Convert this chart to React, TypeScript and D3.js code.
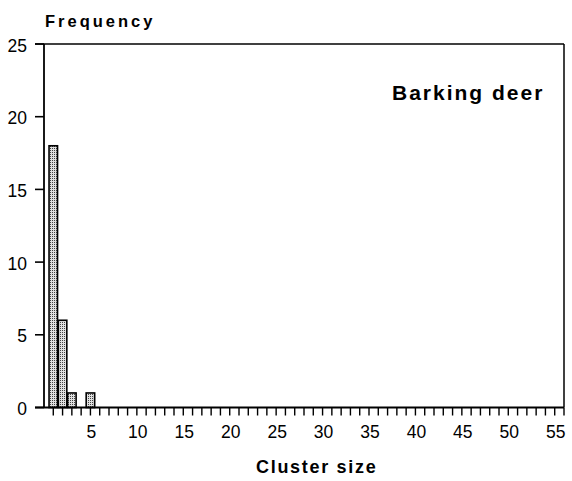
import React from "react";
import * as d3 from "d3";

const clusterSizes = [1, 2, 3, 4, 5];
const frequencies = [18, 6, 1, 0, 1];
const yTicks = [0, 5, 10, 15, 20, 25];
const xLabelTicks = [5, 10, 15, 20, 25, 30, 35, 40, 45, 50, 55];
const title = "Barking deer";
const yTitle = "Frequency";
const xTitle = "Cluster size";

export default function App() {
  const W = 572, H = 481;
  const x = d3.scaleLinear().domain([0, 56]).range([44, 564]);
  const y = d3.scaleLinear().domain([0, 25]).range([407.5, 44]);
  const minor = d3.range(1, 57);
  const barW = 8.5;
  const font = "'Liberation Sans', Arial, Helvetica, sans-serif";
  return (
    <svg width={W} height={H} style={{ position: "absolute", left: 0, top: 0 }}>
      <defs>
        <pattern id="stip" width="2" height="2" patternUnits="userSpaceOnUse">
          <rect width="2" height="2" fill="#e0e0e0" />
          <rect width="1" height="1" fill="#444" />
        </pattern>
      </defs>
      <rect width={W} height={H} fill="#fff" />
      {clusterSizes.map((c, i) =>
        frequencies[i] > 0 ? (
          <rect
            key={c}
            x={x(c) - barW / 2}
            y={y(frequencies[i])}
            width={barW}
            height={y(0) - y(frequencies[i])}
            fill="url(#stip)"
            stroke="#000"
            strokeWidth={1.6}
          />
        ) : null
      )}
      {/* frame */}
      <line x1={x(0)} x2={x(0)} y1={y(25)} y2={y(0)} stroke="#000" strokeWidth={1.8} />
      <line x1={35} x2={x(56)} y1={y(25)} y2={y(25)} stroke="#000" strokeWidth={1.5} />
      <line x1={x(56)} x2={x(56)} y1={y(25)} y2={y(0)} stroke="#000" strokeWidth={1.5} />
      <line x1={35} x2={x(56)} y1={y(0)} y2={y(0)} stroke="#000" strokeWidth={1.8} />
      {/* y ticks */}
      {yTicks.map((t) => (
        <g key={t}>
          <line x1={35} x2={x(0)} y1={y(t)} y2={y(t)} stroke="#000" strokeWidth={1.6} />
          <text x={27} y={y(t) + 7.5} textAnchor="end" fontFamily={font} fontSize={17.5}>
            {t}
          </text>
        </g>
      ))}
      {/* x ticks */}
      {minor.map((t) => (
        <line key={t} x1={x(t)} x2={x(t)} y1={y(0)} y2={y(0) + 8} stroke="#000" strokeWidth={1.4} />
      ))}
      {xLabelTicks.map((t) => (
        <text key={t} x={x(t) + 1} y={438} textAnchor="middle" fontFamily={font} fontSize={17.5}>
          {t}
        </text>
      ))}
      <text x={45} y={27} fontFamily={font} fontSize={16.5} fontWeight="bold" letterSpacing={3}>
        {yTitle}
      </text>
      <text x={392} y={100} fontFamily={font} fontSize={21} fontWeight="bold" letterSpacing={2}>
        {title}
      </text>
      <text x={256} y={473} fontFamily={font} fontSize={18} fontWeight="bold" letterSpacing={1.7}>
        {xTitle}
      </text>
    </svg>
  );
}
